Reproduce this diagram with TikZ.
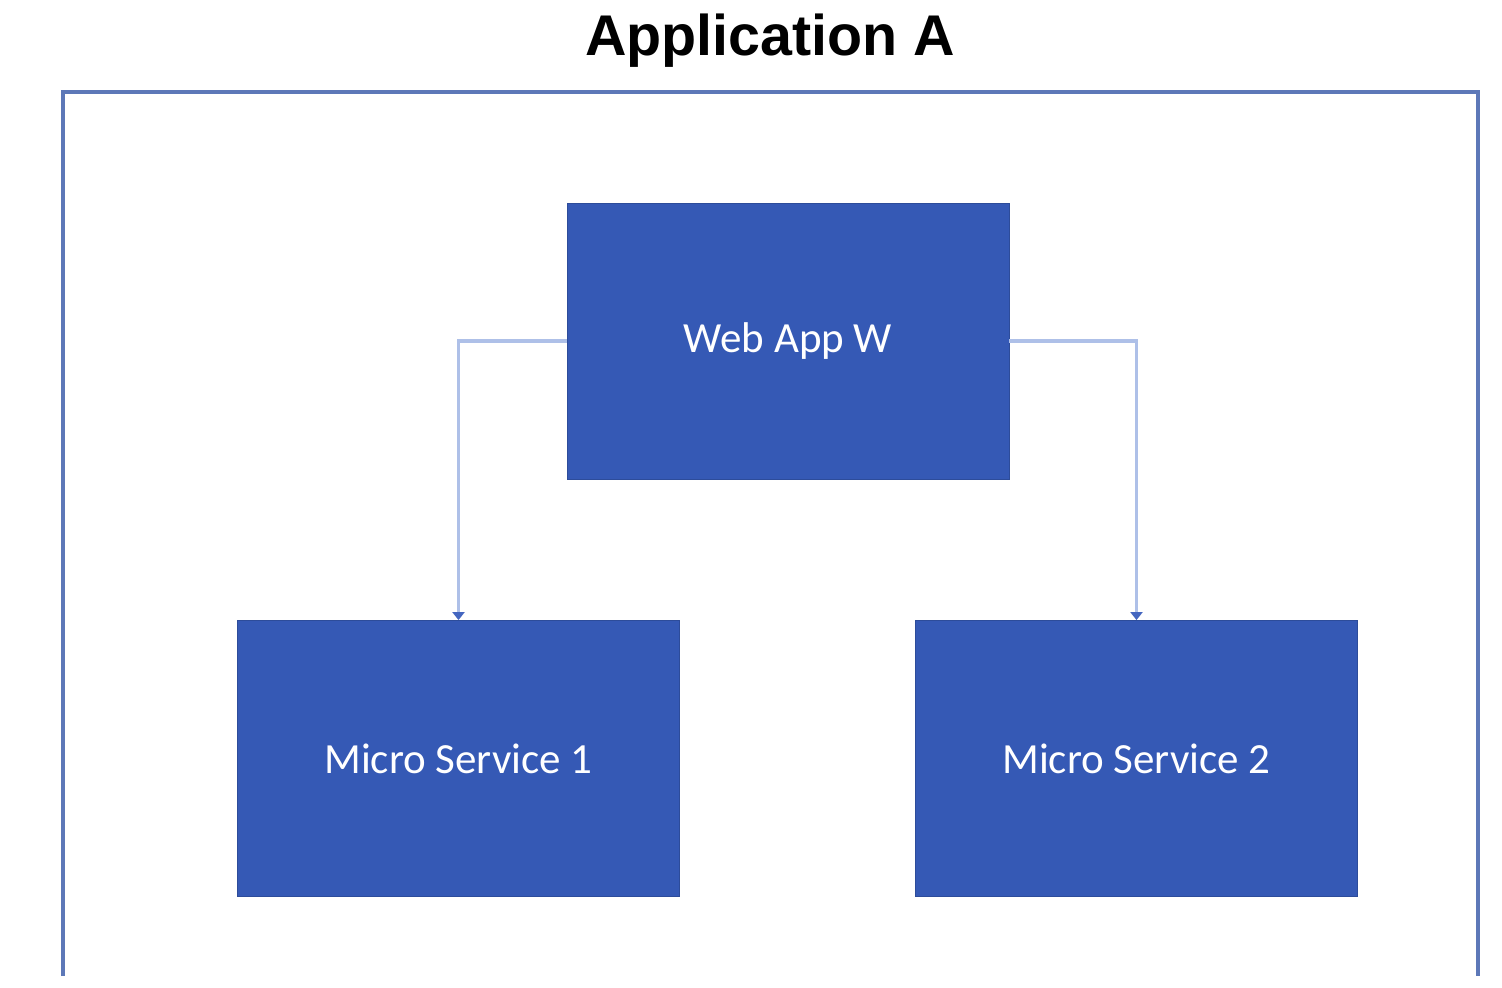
\documentclass[tikz,border=0pt]{standalone}
\usepackage{fontspec}
\setmainfont{Carlito}
\newfontfamily\titlefont{Liberation Sans}
\usepackage{tikz}
\usetikzlibrary{arrows.meta}
\definecolor{boxblue}{HTML}{3559B5}
\definecolor{framecol}{HTML}{5D78B8}
\definecolor{linkcol}{HTML}{AEC0E8}
\definecolor{tipcol}{HTML}{4466C0}

\tikzset{
  service/.style={draw=boxblue!85!black, line width=0.4pt, fill=boxblue, text=white,
    minimum width=221pt, minimum height=138pt, inner sep=0pt,
    font=\fontsize{21.5}{24}\selectfont},
  link/.style={draw=linkcol, line width=1.6pt,
    -{Triangle[width=6pt, length=4pt, fill=tipcol, color=tipcol]}}
}

\begin{document}
\begin{tikzpicture}[x=0.5pt, y=-0.5pt]
\useasboundingbox (0,0) rectangle (1502,988);
\node (title) at (770,41) {\titlefont\bfseries\fontsize{28.7}{32}\selectfont Application A};
\draw[framecol, line width=1.6pt] (63,976) -- (63,92) -- (1478,92) -- (1478,976);
\node[service] (web) at (788,341) {Web App W};
\node[service] (ms1) at (458.5,758.5) {Micro Service 1};
\node[service] (ms2) at (1136.5,758.5) {Micro Service 2};
\draw[link] (web.west) -| (ms1.north);
\draw[link] (web.east) -| (ms2.north);
\end{tikzpicture}
\end{document}
